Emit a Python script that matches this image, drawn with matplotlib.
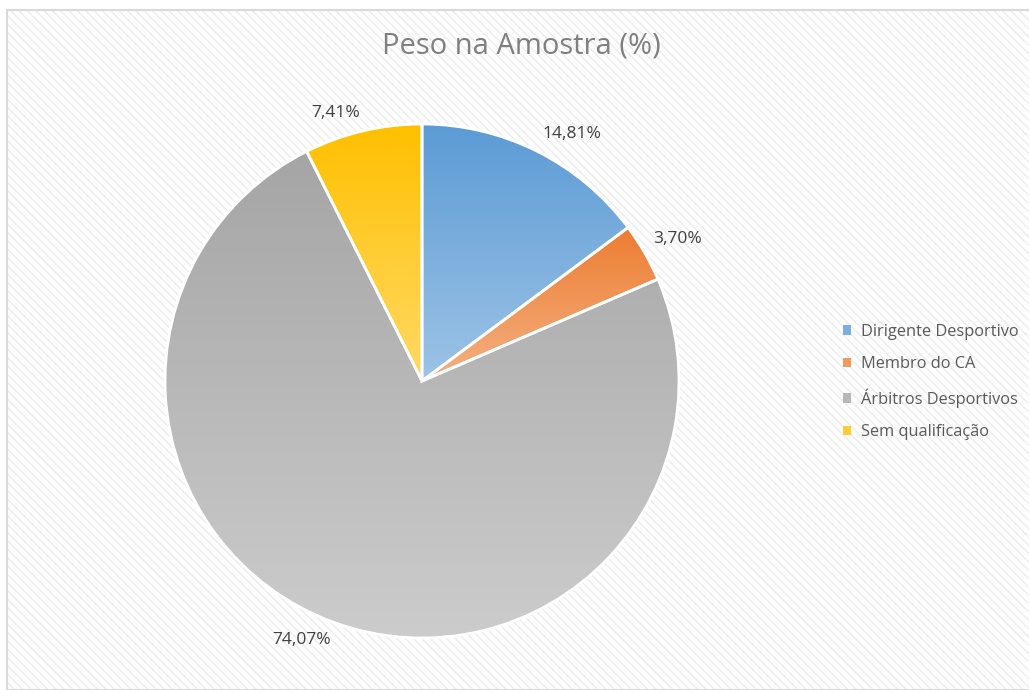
import numpy as np
import matplotlib
matplotlib.use('Agg')
import matplotlib.pyplot as plt
from matplotlib.patches import Rectangle
from matplotlib.colors import LinearSegmentedColormap

# Data
categories = ['Dirigente Desportivo', 'Membro do CA', 'Árbitros Desportivos', 'Sem qualificação']
values = [14.81, 3.70, 74.07, 7.41]
labels = ['14,81%', '3,70%', '74,07%', '7,41%']
# gradient (top colour, bottom colour) per slice
top_colors = ['#5b9bd5', '#ed7d31', '#a5a5a5', '#ffc000']
bottom_colors = ['#9dc3e6', '#f4b183', '#cccccc', '#ffd966']

plt.rcParams['font.family'] = ['Open Sans', 'DejaVu Sans']
plt.rcParams['hatch.linewidth'] = 1.0

W, H = 1029, 690
fig = plt.figure(figsize=(W / 100, H / 100), dpi=100)
fig.patch.set_facecolor('white')

# chart area background: faint diagonal hatch + light border
x0, y0 = 7 / W, 0
fig.patches.append(Rectangle((x0, y0), 1 - x0, (H - 10) / H, transform=fig.transFigure,
                             facecolor='white', edgecolor='#ececec', hatch='\\\\\\\\', linewidth=0, zorder=-2))
fig.patches.append(Rectangle((x0, y0), 1 - x0 + 0.01, (H - 10) / H, transform=fig.transFigure,
                             facecolor='none', edgecolor='#d9d9d9', linewidth=1.5, zorder=-1))

# pie axes: centre (422, 381) px, radius 257 px
cx, cy, r = 422, H - 381, 257
ax = fig.add_axes([(cx - r) / W, (cy - r) / H, 2 * r / W, 2 * r / H])
ax.set_facecolor('none')
ax.set_zorder(1)

wedges, texts = ax.pie(values, labels=labels, startangle=90, counterclock=False,
                       labeldistance=1.05, radius=1,
                       wedgeprops=dict(edgecolor='white', linewidth=2),
                       textprops=dict(color='#404040', fontsize=12.5))

# "best fit" style: label box corner touches the point just outside the slice
for w, t in zip(wedges, texts):
    ang = np.deg2rad((w.theta1 + w.theta2) / 2)
    t.set_position((1.04 * np.cos(ang), 1.04 * np.sin(ang)))
    t.set_ha('left' if np.cos(ang) > 0 else 'right')
    t.set_va('bottom' if np.sin(ang) > 0 else 'top')

for w, c1, c2 in zip(wedges, top_colors, bottom_colors):
    ext = w.get_path().get_extents()
    cmap = LinearSegmentedColormap.from_list('g', [c1, c2])
    grad = np.linspace(0, 1, 256).reshape(-1, 1)
    im = ax.imshow(grad, cmap=cmap, aspect='auto', origin='upper',
                   extent=[ext.x0, ext.x1, ext.y0, ext.y1], zorder=1)
    im.set_clip_path(w)
    w.set_facecolor('none')
    w.set_zorder(2)

ax.set_xlim(-1, 1)
ax.set_ylim(-1, 1)
ax.set_aspect('equal')
ax.axis('off')

fig.text(521 / W, 1 - 46 / H, 'Peso na Amostra (%)', ha='center', va='center',
         fontsize=21, color='#7f7f7f')

# legend
handles = [Rectangle((0, 0), 1, 1, facecolor=c) for c in ['#7aafe0', '#f09a5e', '#b8b8b8', '#ffcc33']]
leg = fig.legend(handles, categories, loc='center left', bbox_to_anchor=(836 / W, 1 - 382 / H),
                 frameon=False, fontsize=11.8, handlelength=0.5, handleheight=0.5,
                 handletextpad=0.6, labelspacing=1.0, borderaxespad=0)
for t in leg.get_texts():
    t.set_color('#595959')

fig.savefig('out.png', dpi=100)
